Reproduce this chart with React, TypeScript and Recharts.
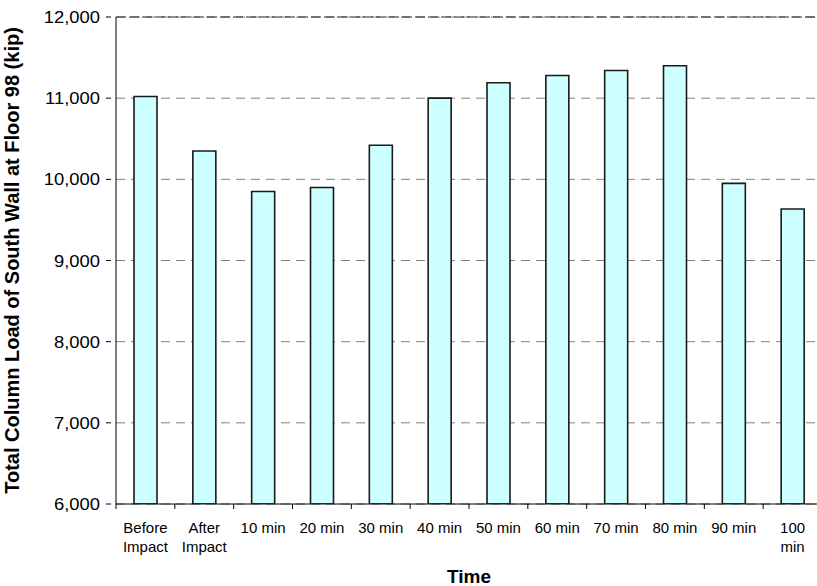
import { BarChart, Bar, XAxis, YAxis, CartesianGrid, ReferenceLine } from 'recharts';

const categories = ['Before\nImpact', 'After\nImpact', '10 min', '20 min', '30 min', '40 min', '50 min', '60 min', '70 min', '80 min', '90 min', '100\nmin'];
const loads = [11020, 10350, 9850, 9900, 10420, 11000, 11190, 11280, 11340, 11400, 9950, 9635];
const yTicks = [6000, 7000, 8000, 9000, 10000, 11000, 12000];

const data = categories.map((name, i) => ({ name, load: loads[i] }));

const FONT = 'Liberation Sans, Arial, sans-serif';

function TimeTick(props: any) {
    const { x, y, payload, index, visibleTicksCount, width } = props;
    const band = width / visibleTicksCount;
    const lines = String(payload.value).split('\n');
    const top = y - 8;
    return (
        <g>
            <line x1={x - band / 2} y1={top} x2={x - band / 2} y2={top + 5} stroke="#000" />
            {index === visibleTicksCount - 1 && (
                <line x1={x + band / 2} y1={top} x2={x + band / 2} y2={top + 5} stroke="#000" />
            )}
            <text x={x} y={top + 29} textAnchor="middle" fontSize={15} fontFamily={FONT} fill="#000">
                {lines.map((l, i) => (
                    <tspan key={i} x={x} dy={i === 0 ? 0 : 19}>{l}</tspan>
                ))}
            </text>
        </g>
    );
}

function LoadTick(props: any) {
    const { x, y, payload } = props;
    return (
        <g transform={`translate(${x},${y})`}>
            <line x1={6} y1={0} x2={11} y2={0} stroke="#000" />
            <text x={0} y={0} dy={6} transform="scale(1.15,1)" textAnchor="end" fontSize={16} fontFamily={FONT} fill="#000">
                {Number(payload.value).toLocaleString('en-US')}
            </text>
        </g>
    );
}

export default function App() {
    return (
        <div style={{ position: 'absolute', left: 0, top: 0, background: '#fff', overflow: 'hidden', width: 817, height: 586 }}>
            <BarChart
                width={823}
                height={586}
                data={data}
                margin={{ top: 17, right: 1, left: 0, bottom: 0 }}
            >
                <CartesianGrid vertical={false} stroke="#808080" strokeDasharray="9 6" />
                <ReferenceLine y={12000} stroke="#222" strokeDasharray="10 3" />
                <XAxis
                    dataKey="name"
                    interval={0}
                    height={82}
                    tickLine={false}
                    axisLine={{ stroke: '#000' }}
                    tick={<TimeTick />}
                    label={{ value: 'Time', position: 'insideBottom', offset: 3, fontSize: 19, fontWeight: 'bold', fontFamily: FONT, fill: '#000' }}
                />
                <YAxis
                    width={116}
                    domain={[6000, 12000]}
                    ticks={yTicks}
                    interval={0}
                    tick={<LoadTick />}
                    tickSize={0}
                    tickMargin={16}
                    tickLine={false}
                    axisLine={{ stroke: '#000' }}
                    allowDataOverflow
                    label={{ value: 'Total Column Load of South Wall at Floor 98 (kip)', angle: -90, position: 'insideLeft', offset: 12, style: { textAnchor: 'middle' }, fontSize: 20, fontWeight: 'bold', fontFamily: FONT, fill: '#000' }}
                />
                <Bar dataKey="load" fill="#CCFFFF" stroke="#1a1a1a" strokeWidth={1.6} barSize={23} isAnimationActive={false} />
            </BarChart>
        </div>
    );
}
